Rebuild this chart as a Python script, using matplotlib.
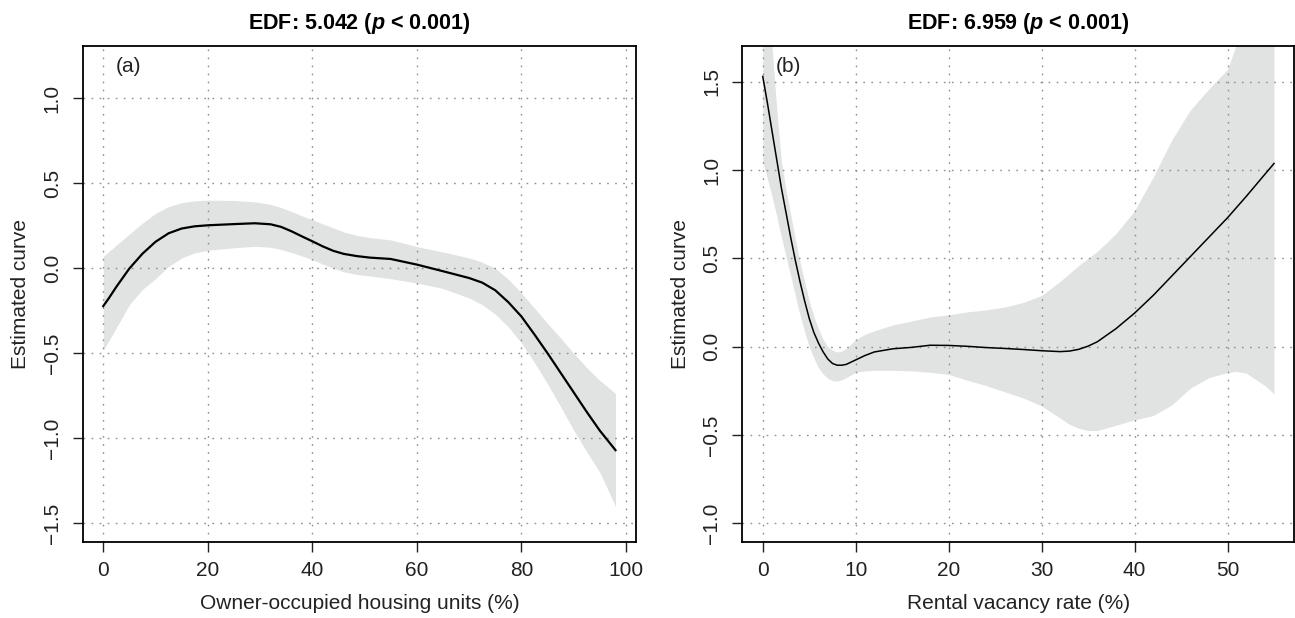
import matplotlib.pyplot as plt
import numpy as np

plt.rcParams['font.family'] = ['Liberation Sans', 'DejaVu Sans']
plt.rcParams['mathtext.fontset'] = 'custom'
plt.rcParams['mathtext.it'] = 'Liberation Sans:italic:bold'
plt.rcParams['mathtext.rm'] = 'Liberation Sans:bold'

# panel (a): owner-occupied housing units
x_a = [0, 1, 2.5, 5, 7.5, 10, 12.5, 15, 17.5, 20, 25, 29, 32, 34, 36, 38, 40, 42, 44, 46, 48.5,
       51, 55, 60, 65, 70, 72.5, 75, 77.5, 80, 82.5, 85, 87.5, 90, 92.5, 95, 98]
fit_a = [-0.223, -0.18, -0.11, -0.002, 0.085, 0.155, 0.205, 0.233, 0.246, 0.252, 0.259, 0.264,
         0.258, 0.243, 0.217, 0.187, 0.158, 0.128, 0.102, 0.084, 0.071, 0.062, 0.054, 0.021, -0.018,
         -0.058, -0.085, -0.13, -0.2, -0.284, -0.39, -0.5, -0.615, -0.73, -0.845, -0.955, -1.07]
upper_a = [0.069, 0.095, 0.135, 0.2, 0.265, 0.322, 0.362, 0.385, 0.396, 0.4, 0.398, 0.39, 0.375,
           0.357, 0.333, 0.308, 0.285, 0.26, 0.237, 0.213, 0.193, 0.18, 0.166, 0.127, 0.095, 0.06,
           0.035, 0.0, -0.065, -0.146, -0.235, -0.325, -0.41, -0.5, -0.585, -0.66, -0.736]
lower_a = [-0.483, -0.43, -0.35, -0.215, -0.125, -0.062, 0.01, 0.06, 0.09, 0.105, 0.12, 0.128,
           0.123, 0.11, 0.092, 0.072, 0.05, 0.024, 0.0, -0.022, -0.037, -0.046, -0.062, -0.087,
           -0.12, -0.175, -0.215, -0.27, -0.345, -0.44, -0.555, -0.68, -0.815, -0.952, -1.08, -1.2,
           -1.40]

# panel (b): rental vacancy rate
x_b = [0, 0.5, 1, 1.5, 2, 2.5, 3, 3.5, 4, 4.5, 5, 5.5, 6, 6.5, 7, 7.5, 8, 8.5, 9, 10, 11, 12, 14,
       16, 18, 20, 22, 24, 26, 28, 30, 32, 33, 34, 35, 36, 38, 40, 42, 44, 46, 48, 50, 51, 52, 54,
       55]
fit_b = [1.53, 1.38, 1.22, 1.06, 0.90, 0.76, 0.62, 0.49, 0.37, 0.26, 0.16, 0.08, 0.02, -0.03, -0.07,
         -0.095, -0.105, -0.105, -0.10, -0.075, -0.05, -0.03, -0.012, -0.004, 0.008, 0.007, 0.002,
         -0.005, -0.01, -0.016, -0.023, -0.028, -0.025, -0.015, 0.003, 0.028, 0.102, 0.19, 0.29,
         0.40, 0.51, 0.62, 0.73, 0.79, 0.85, 0.975, 1.037]
upper_b = [2.4, 2.05, 1.70, 1.35, 1.05, 0.89, 0.75, 0.61, 0.48, 0.37, 0.26, 0.17, 0.10, 0.04, 0.0,
           -0.02, -0.03, -0.025, -0.01, 0.04, 0.07, 0.09, 0.123, 0.145, 0.168, 0.18, 0.197, 0.208,
           0.224, 0.25, 0.29, 0.37, 0.415, 0.46, 0.5, 0.54, 0.64, 0.77, 0.96, 1.17, 1.34, 1.46,
           1.57, 1.72, 1.85, 2.1, 2.2]
lower_b = [1.05, 0.95, 0.85, 0.74, 0.62, 0.51, 0.40, 0.29, 0.18, 0.085, 0.0, -0.065, -0.12, -0.155,
           -0.18, -0.192, -0.195, -0.188, -0.175, -0.145, -0.137, -0.134, -0.134, -0.137, -0.145,
           -0.157, -0.19, -0.22, -0.255, -0.29, -0.336, -0.405, -0.44, -0.462, -0.475, -0.475,
           -0.445, -0.414, -0.39, -0.33, -0.235, -0.175, -0.146, -0.14, -0.15, -0.22, -0.267]

panels = [
    dict(x=x_a, fit=fit_a, up=upper_a, lo=lower_a, xlim=(-3.92, 101.92), ylim=(-1.608, 1.308),
         xt=[0, 20, 40, 60, 80, 100], yt=[-1.5, -1.0, -0.5, 0.0, 0.5, 1.0],
         xlabel='Owner-occupied housing units (%)', title='EDF: 5.042 ($p$ < 0.001)', tag='(a)',
         lw=1.6, pos=[0.0639, 0.1235, 0.4272, 0.8026]),
    dict(x=x_b, fit=fit_b, up=upper_b, lo=lower_b, xlim=(-2.2, 57.2), ylim=(-1.104, 1.704),
         xt=[0, 10, 20, 30, 40, 50], yt=[-1.0, -0.5, 0.0, 0.5, 1.0, 1.5],
         xlabel='Rental vacancy rate (%)', title='EDF: 6.959 ($p$ < 0.001)', tag='(b)',
         lw=1.1, pos=[0.5732, 0.1235, 0.4264, 0.8026]),
]

fig = plt.figure(figsize=(12.95, 6.18), dpi=100)

for p in panels:
    ax = fig.add_axes(p['pos'])
    ax.fill_between(p['x'], p['lo'], p['up'], color='#e1e3e2', lw=0, zorder=1)
    for v in p['xt']:
        ax.axvline(v, color='#8f8f8f', lw=1.0, ls=(0, (1.2, 4.6)), zorder=2)
    for v in p['yt']:
        ax.axhline(v, color='#8f8f8f', lw=1.0, ls=(0, (1.2, 4.6)), zorder=2)
    ax.plot(p['x'], p['fit'], color='black', lw=p['lw'], zorder=3, solid_joinstyle='round')
    ax.set_xlim(*p['xlim'])
    ax.set_ylim(*p['ylim'])
    ax.set_xticks(p['xt'])
    ax.set_yticks(p['yt'])
    ax.set_xticklabels([f'{v:g}' for v in p['xt']])
    ax.set_yticklabels([f'{v:.1f}'.replace('-', '\u2212') for v in p['yt']], rotation=90, va='center')
    ax.tick_params(direction='out', length=7.2, width=1.0, labelsize=15, colors='#222222', pad=7)
    ax.tick_params(axis='y', pad=8)
    for s in ax.spines.values():
        s.set_linewidth(1.3)
    ax.set_xlabel(p['xlabel'], fontsize=15, color='#222222', labelpad=10)
    ax.set_ylabel('Estimated curve', fontsize=15, color='#222222', labelpad=9)
    ax.set_title(p['title'], fontsize=15.5, fontweight='bold', pad=12)
    ax.text(0.06, 0.978, p['tag'], transform=ax.transAxes, ha='left', va='top', fontsize=15,
            color='#222222')

fig.savefig('out.png', dpi=100)
